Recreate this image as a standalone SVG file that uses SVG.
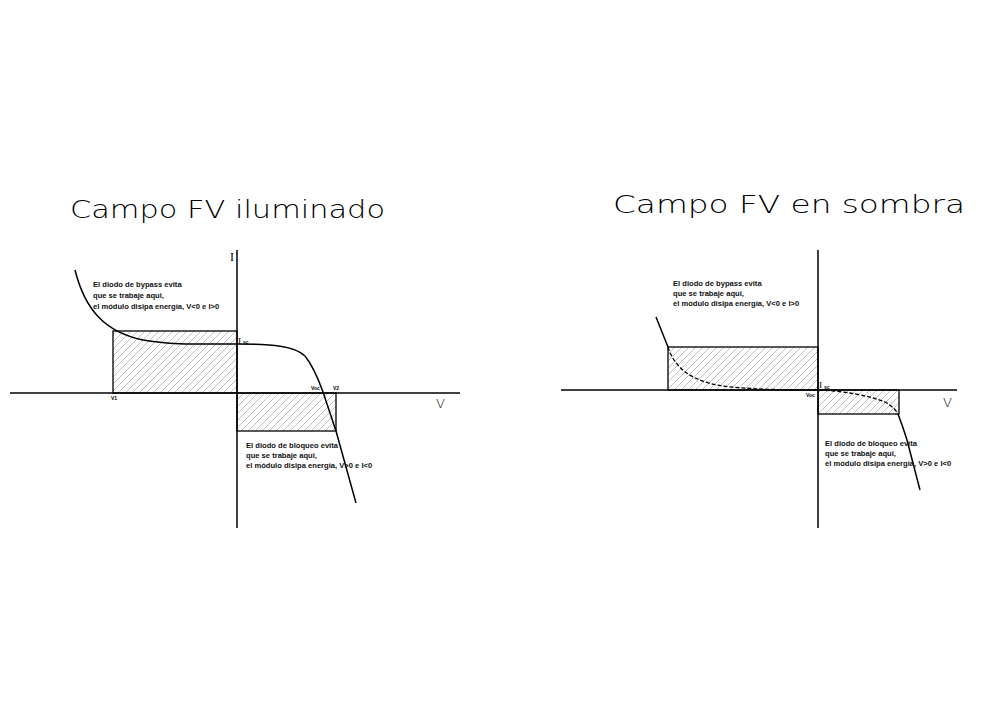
<svg xmlns="http://www.w3.org/2000/svg" width="1000" height="707" viewBox="0 0 1000 707">
<defs>
<pattern id="hatch" patternUnits="userSpaceOnUse" width="7" height="7">
<path d="M-1,8 L8,-1 M-1,1 L1,-1 M6,8 L8,6" stroke="#b0b0b0" stroke-width="0.8"/>
</pattern>
</defs>
<style>
.axis{stroke:#000;stroke-width:1.5;fill:none}
.box{fill:url(#hatch);stroke:#000;stroke-width:1.3}
.curve{stroke:#000;stroke-width:1.5;fill:none}
.dash{stroke:#000;stroke-width:1.3;fill:none;stroke-dasharray:4 2}
.title{font-family:"DejaVu Sans","Liberation Sans",sans-serif;font-weight:200;font-size:25px;fill:#000}
.note{font-family:"Liberation Sans",Arial,sans-serif;font-size:7.6px;font-weight:bold;fill:#111}
.lbl{font-family:"Liberation Sans",Arial,sans-serif;font-size:5px;font-weight:bold;fill:#000}
.big{font-family:"Liberation Serif",serif;fill:#000}
.axl{font-family:"DejaVu Sans","Liberation Sans",sans-serif;font-weight:200;font-size:13px;fill:#000}
</style>
<rect width="1000" height="707" fill="#fff"/>

<g id="left-title"><text class="title" x="70" y="218" textLength="315" lengthAdjust="spacingAndGlyphs">Campo FV iluminado</text></g>
<g id="right-title"><text class="title" x="613" y="213" textLength="352" lengthAdjust="spacingAndGlyphs">Campo FV en sombra</text></g>

<g id="left-chart">
<rect id="left-bypass-area" class="box" x="113" y="331" width="124" height="62"/>
<rect id="left-block-area" class="box" x="237" y="393" width="99" height="38"/>
<g id="left-axes">
<line class="axis" x1="237" y1="250" x2="237" y2="528"/>
<line class="axis" x1="10" y1="393" x2="460" y2="393"/>
</g>
<path id="left-iv-curve" class="curve" d="M75,270 C85,310 105,332 143,340 C170,345 200,344 237,344 C272,344 295,346 305,356 C313,366 318,378 323,392 L336,431 L356,503"/>
<text class="big" x="230" y="261" font-size="12">I</text>
<text class="axl" x="436" y="408">V</text>
<text class="big" x="238" y="344" font-size="9">I</text><text class="lbl" x="243" y="344">sc</text>
<text class="lbl" x="311" y="390">Voc</text>
<text class="lbl" x="333" y="390">V2</text>
<text class="lbl" x="111" y="400">V1</text>
<g id="left-bypass-note">
<text class="note" x="93" y="287">El diodo de bypass evita</text>
<text class="note" x="93" y="298">que se trabaje aqui,</text>
<text class="note" x="93" y="309">el módulo disipa energía, V&lt;0 e I&gt;0</text>
</g>
<g id="left-block-note">
<text class="note" x="246" y="448">El diodo de bloqueo evita</text>
<text class="note" x="246" y="458">que se trabaje aqui,</text>
<text class="note" x="246" y="468">el módulo disipa energía, V&gt;0 e I&lt;0</text>
</g>
</g>

<g id="right-chart">
<rect id="right-bypass-area" class="box" x="668" y="347" width="150" height="43"/>
<rect id="right-block-area" class="box" x="818" y="390" width="81" height="24"/>
<g id="right-axes">
<line class="axis" x1="818" y1="250" x2="818" y2="528"/>
<line class="axis" x1="561" y1="390" x2="957" y2="390"/>
</g>
<path id="right-iv-solid-1" class="curve" d="M656,317 L668,347"/>
<path id="right-iv-dashed" class="dash" d="M668,347 C675,370 695,382 723,386 C745,389 780,390 818,390 C845,391 870,396 885,402 C892,406 896,410 898,414"/>
<path id="right-iv-solid-2" class="curve" d="M898,414 Q903,427 907,440 L920,490"/>
<text class="axl" x="943" y="407">V</text>
<text class="big" x="819" y="388" font-size="9">I</text><text class="lbl" x="824" y="389">sc</text>
<text class="lbl" x="806" y="397">Voc</text>
<g id="right-bypass-note">
<text class="note" x="673" y="286">El diodo de bypass evita</text>
<text class="note" x="673" y="296">que se trabaje aqui,</text>
<text class="note" x="673" y="306">el módulo disipa energía, V&lt;0 e I&gt;0</text>
</g>
<g id="right-block-note">
<text class="note" x="825" y="446">El diodo de bloqueo evita</text>
<text class="note" x="825" y="456">que se trabaje aqui,</text>
<text class="note" x="825" y="466">el módulo disipa energía, V&gt;0 e I&lt;0</text>
</g>
</g>
</svg>
